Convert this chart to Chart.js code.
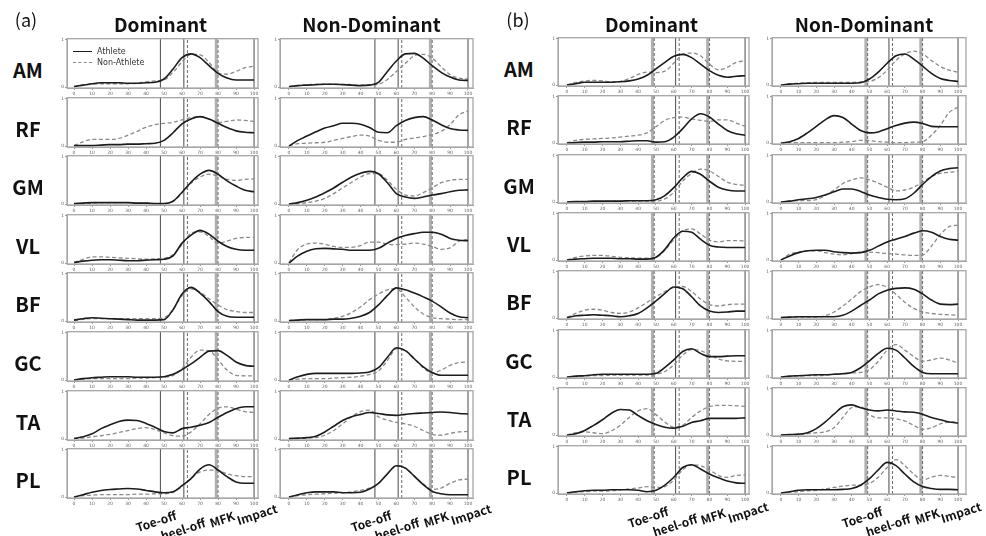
<!DOCTYPE html>
<html>
<head>
<meta charset="utf-8">
<script src="https://cdn.jsdelivr.net/npm/chart.js@4.4.0/dist/chart.umd.min.js"></script>
<style>
body{margin:0;background:#fff;width:986px;height:536px;position:relative;overflow:hidden;font-family:"Noto Sans CJK KR","Noto Sans",sans-serif;color:#111}
canvas{position:absolute}
.t{position:absolute;white-space:nowrap;transform:translate(-50%,-50%);line-height:1}
.legend{position:absolute;font-family:"DejaVu Sans",sans-serif;font-size:8px;color:#333;line-height:11px}
.legend span{display:inline-block;width:19px;margin-right:5px;vertical-align:middle}
</style>
</head>
<body>
<script>
// % of the movement cycle
const pct = [0,5,10,15,20,25,30,35,40,45,50,55,60,65,70,75,80,85,90,95,100]
const xTicks = [0,10,20,30,40,50,60,70,80,90,100]
const yTicks = [0,1]
const muscles = ['AM','RF','GM','VL','BF','GC','TA','PL']
const phaseNames = ['Toe-off','heel-off','MFK','Impact']
const phaseAt = [48,61,80,100]

// event lines (a) and (b)
const eventsA_solid = [48,61,100]
const eventsA_dash = [63,80]
const eventsA_band = [79]
const eventsB_solid = [61,100]
const eventsB_dash = [49,63,80]
const eventsB_band = [48,79]

// (a) Dominant
const aDomAM_ath = [0.01,0.04,0.07,0.09,0.09,0.09,0.08,0.08,0.09,0.10,0.17,0.38,0.62,0.70,0.62,0.45,0.29,0.19,0.15,0.15,0.15]
const aDomAM_non = [0.01,0.04,0.06,0.07,0.07,0.07,0.07,0.08,0.11,0.13,0.15,0.31,0.53,0.69,0.68,0.52,0.30,0.27,0.33,0.41,0.44]
const aDomRF_ath = [0.01,0.01,0.01,0.02,0.03,0.03,0.04,0.04,0.05,0.06,0.12,0.28,0.47,0.57,0.62,0.57,0.48,0.39,0.32,0.29,0.28]
const aDomRF_non = [0.01,0.09,0.14,0.14,0.14,0.16,0.23,0.31,0.40,0.45,0.48,0.50,0.55,0.60,0.62,0.57,0.50,0.52,0.55,0.54,0.52]
const aDomGM_ath = [0.01,0.02,0.03,0.03,0.03,0.03,0.03,0.02,0.02,0.01,0.01,0.06,0.25,0.46,0.63,0.71,0.63,0.49,0.38,0.29,0.26]
const aDomGM_non = [0.01,0.01,0.02,0.03,0.03,0.03,0.03,0.02,0.02,0.01,0.01,0.06,0.23,0.44,0.57,0.63,0.59,0.52,0.50,0.52,0.53]
const aDomVL_ath = [0.01,0.04,0.06,0.07,0.07,0.06,0.05,0.05,0.06,0.07,0.08,0.15,0.42,0.59,0.69,0.61,0.46,0.35,0.29,0.27,0.27]
const aDomVL_non = [0.01,0.08,0.13,0.13,0.12,0.11,0.10,0.09,0.08,0.09,0.10,0.18,0.39,0.63,0.66,0.56,0.42,0.46,0.52,0.54,0.54]
const aDomBF_ath = [0.02,0.05,0.07,0.06,0.05,0.04,0.03,0.02,0.02,0.02,0.03,0.24,0.57,0.71,0.59,0.41,0.20,0.10,0.08,0.08,0.08]
const aDomBF_non = [0.01,0.04,0.05,0.05,0.05,0.05,0.05,0.05,0.05,0.05,0.07,0.24,0.54,0.68,0.61,0.47,0.34,0.24,0.20,0.18,0.18]
const aDomGC_ath = [0.00,0.03,0.05,0.06,0.07,0.07,0.07,0.06,0.06,0.06,0.07,0.12,0.22,0.34,0.48,0.61,0.62,0.52,0.38,0.31,0.29]
const aDomGC_non = [0.00,0.02,0.03,0.03,0.03,0.03,0.03,0.04,0.04,0.05,0.06,0.10,0.24,0.48,0.63,0.62,0.43,0.21,0.10,0.09,0.09]
const aDomTA_ath = [0.01,0.05,0.11,0.22,0.30,0.37,0.40,0.39,0.33,0.25,0.16,0.13,0.22,0.25,0.29,0.35,0.46,0.56,0.64,0.68,0.68]
const aDomTA_non = [0.01,0.02,0.05,0.07,0.10,0.14,0.18,0.22,0.24,0.20,0.13,0.07,0.06,0.15,0.32,0.52,0.65,0.68,0.63,0.58,0.56]
const aDomPL_ath = [0.00,0.05,0.10,0.14,0.16,0.17,0.18,0.17,0.14,0.11,0.09,0.11,0.24,0.39,0.59,0.68,0.57,0.43,0.32,0.29,0.29]
const aDomPL_non = [0.00,0.03,0.04,0.05,0.05,0.05,0.05,0.06,0.06,0.07,0.07,0.10,0.22,0.39,0.53,0.57,0.56,0.49,0.45,0.43,0.43]

// (a) Non-Dominant
const aNonAM_ath = [0.01,0.03,0.04,0.05,0.06,0.06,0.05,0.04,0.03,0.04,0.10,0.33,0.55,0.70,0.71,0.61,0.45,0.31,0.21,0.15,0.14]
const aNonAM_non = [0.01,0.03,0.05,0.06,0.06,0.06,0.06,0.05,0.04,0.05,0.06,0.16,0.33,0.50,0.66,0.69,0.61,0.43,0.26,0.19,0.17]
const aNonRF_ath = [0.00,0.12,0.21,0.30,0.38,0.43,0.48,0.48,0.46,0.39,0.29,0.28,0.43,0.54,0.60,0.62,0.55,0.45,0.37,0.34,0.33]
const aNonRF_non = [0.01,0.05,0.06,0.07,0.08,0.12,0.16,0.20,0.23,0.21,0.12,0.08,0.08,0.14,0.17,0.20,0.24,0.31,0.45,0.66,0.74]
const aNonGM_ath = [0.00,0.03,0.08,0.15,0.24,0.34,0.46,0.57,0.65,0.69,0.64,0.45,0.22,0.15,0.12,0.15,0.19,0.22,0.26,0.29,0.30]
const aNonGM_non = [0.00,0.01,0.03,0.06,0.12,0.22,0.34,0.46,0.57,0.64,0.64,0.50,0.31,0.19,0.17,0.24,0.34,0.45,0.50,0.52,0.52]
const aNonVL_ath = [0.00,0.15,0.25,0.30,0.31,0.30,0.29,0.27,0.27,0.27,0.31,0.42,0.52,0.58,0.62,0.65,0.65,0.61,0.52,0.48,0.47]
const aNonVL_non = [0.01,0.29,0.40,0.42,0.40,0.35,0.33,0.33,0.37,0.44,0.44,0.40,0.39,0.40,0.42,0.40,0.35,0.29,0.32,0.46,0.50]
const aNonBF_ath = [0.01,0.02,0.03,0.03,0.03,0.04,0.04,0.06,0.10,0.18,0.34,0.54,0.70,0.66,0.59,0.51,0.42,0.30,0.17,0.09,0.07]
const aNonBF_non = [0.01,0.02,0.03,0.03,0.03,0.06,0.10,0.18,0.30,0.45,0.57,0.66,0.68,0.51,0.30,0.15,0.07,0.05,0.04,0.03,0.03]
const aNonGC_ath = [0.00,0.07,0.12,0.14,0.14,0.14,0.14,0.14,0.15,0.17,0.26,0.48,0.68,0.62,0.45,0.28,0.16,0.10,0.10,0.10,0.10]
const aNonGC_non = [0.00,0.02,0.03,0.03,0.03,0.04,0.05,0.06,0.08,0.12,0.19,0.41,0.66,0.63,0.45,0.26,0.15,0.21,0.31,0.37,0.38]
const aNonTA_ath = [0.01,0.02,0.03,0.06,0.15,0.27,0.39,0.47,0.52,0.56,0.54,0.51,0.50,0.52,0.54,0.55,0.56,0.57,0.56,0.54,0.53]
const aNonTA_non = [0.01,0.01,0.02,0.03,0.08,0.18,0.32,0.47,0.58,0.61,0.47,0.40,0.35,0.32,0.27,0.18,0.10,0.08,0.12,0.15,0.16]
const aNonPL_ath = [0.00,0.05,0.09,0.11,0.11,0.11,0.09,0.09,0.10,0.17,0.29,0.49,0.66,0.61,0.44,0.26,0.12,0.07,0.05,0.05,0.05]
const aNonPL_non = [0.00,0.03,0.05,0.06,0.07,0.08,0.09,0.11,0.14,0.19,0.29,0.49,0.66,0.61,0.44,0.28,0.16,0.19,0.29,0.36,0.38]

// (b) Dominant
const bDomAM_ath = [0.00,0.03,0.06,0.06,0.06,0.06,0.07,0.09,0.13,0.21,0.35,0.49,0.62,0.66,0.59,0.45,0.31,0.21,0.17,0.19,0.20]
const bDomAM_non = [0.00,0.06,0.09,0.10,0.09,0.07,0.08,0.14,0.23,0.28,0.27,0.30,0.47,0.66,0.69,0.63,0.45,0.33,0.38,0.49,0.52]
const bDomRF_ath = [0.00,0.01,0.02,0.02,0.03,0.03,0.03,0.04,0.05,0.05,0.02,0.03,0.13,0.31,0.52,0.63,0.56,0.41,0.27,0.20,0.17]
const bDomRF_non = [0.00,0.06,0.08,0.09,0.10,0.11,0.13,0.15,0.17,0.22,0.35,0.49,0.55,0.56,0.52,0.49,0.47,0.50,0.50,0.43,0.36]
const bDomGM_ath = [0.00,0.01,0.01,0.02,0.02,0.02,0.02,0.03,0.03,0.03,0.05,0.14,0.31,0.52,0.66,0.60,0.45,0.32,0.26,0.24,0.24]
const bDomGM_non = [0.00,0.01,0.01,0.01,0.01,0.02,0.02,0.02,0.02,0.02,0.02,0.07,0.21,0.45,0.62,0.71,0.67,0.55,0.43,0.38,0.36]
const bDomVL_ath = [0.00,0.02,0.03,0.04,0.04,0.04,0.03,0.03,0.02,0.02,0.06,0.23,0.48,0.62,0.60,0.45,0.32,0.28,0.27,0.27,0.27]
const bDomVL_non = [0.00,0.06,0.09,0.10,0.10,0.08,0.06,0.05,0.04,0.04,0.06,0.21,0.44,0.63,0.67,0.56,0.43,0.39,0.42,0.42,0.41]
const bDomBF_ath = [0.01,0.05,0.06,0.07,0.06,0.05,0.03,0.05,0.10,0.22,0.37,0.53,0.67,0.63,0.46,0.26,0.15,0.12,0.13,0.15,0.15]
const bDomBF_non = [0.01,0.10,0.17,0.19,0.17,0.12,0.10,0.13,0.22,0.34,0.46,0.57,0.66,0.68,0.57,0.41,0.29,0.26,0.29,0.30,0.30]
const bDomGC_ath = [0.00,0.02,0.03,0.05,0.06,0.06,0.06,0.06,0.06,0.06,0.08,0.21,0.37,0.55,0.61,0.51,0.44,0.44,0.45,0.46,0.46]
const bDomGC_non = [0.00,0.01,0.02,0.03,0.03,0.04,0.04,0.04,0.04,0.04,0.06,0.12,0.26,0.47,0.59,0.57,0.48,0.39,0.35,0.34,0.34]
const bDomTA_ath = [0.00,0.03,0.10,0.21,0.33,0.47,0.55,0.54,0.42,0.31,0.23,0.17,0.15,0.19,0.27,0.31,0.36,0.36,0.36,0.36,0.37]
const bDomTA_non = [0.00,0.05,0.07,0.05,0.03,0.09,0.21,0.38,0.52,0.57,0.44,0.28,0.17,0.21,0.38,0.52,0.61,0.64,0.64,0.63,0.62]
const bDomPL_ath = [0.00,0.03,0.05,0.06,0.06,0.07,0.07,0.07,0.06,0.03,0.06,0.17,0.34,0.55,0.61,0.52,0.41,0.33,0.26,0.22,0.21]
const bDomPL_non = [0.00,0.02,0.03,0.04,0.04,0.05,0.07,0.09,0.11,0.14,0.12,0.14,0.28,0.50,0.61,0.59,0.50,0.38,0.34,0.38,0.39]

// (b) Non-Dominant
const bNonAM_ath = [0.00,0.02,0.03,0.04,0.04,0.04,0.04,0.04,0.04,0.05,0.13,0.28,0.47,0.63,0.67,0.56,0.41,0.25,0.14,0.10,0.08]
const bNonAM_non = [0.00,0.03,0.04,0.05,0.06,0.06,0.06,0.06,0.06,0.07,0.08,0.16,0.32,0.53,0.67,0.73,0.67,0.53,0.40,0.32,0.28]
const bNonRF_ath = [0.00,0.03,0.10,0.22,0.36,0.50,0.59,0.55,0.41,0.27,0.22,0.24,0.31,0.38,0.43,0.45,0.42,0.36,0.35,0.35,0.35]
const bNonRF_non = [0.00,0.01,0.01,0.01,0.01,0.01,0.01,0.02,0.03,0.06,0.05,0.03,0.02,0.01,0.01,0.02,0.03,0.17,0.38,0.66,0.77]
const bNonGM_ath = [0.00,0.02,0.05,0.07,0.10,0.15,0.22,0.28,0.28,0.23,0.15,0.10,0.06,0.05,0.07,0.19,0.38,0.55,0.67,0.72,0.74]
const bNonGM_non = [0.00,0.02,0.03,0.03,0.05,0.14,0.26,0.40,0.48,0.52,0.48,0.41,0.32,0.24,0.26,0.32,0.43,0.55,0.62,0.64,0.66]
const bNonVL_ath = [0.00,0.09,0.16,0.20,0.21,0.21,0.18,0.16,0.15,0.16,0.21,0.30,0.39,0.45,0.51,0.58,0.63,0.60,0.51,0.45,0.43]
const bNonVL_non = [0.00,0.13,0.17,0.20,0.20,0.16,0.13,0.11,0.14,0.17,0.17,0.16,0.14,0.13,0.11,0.10,0.11,0.30,0.55,0.72,0.75]
const bNonBF_ath = [0.01,0.02,0.03,0.03,0.03,0.03,0.03,0.06,0.15,0.27,0.39,0.52,0.60,0.64,0.65,0.62,0.52,0.39,0.30,0.29,0.30]
const bNonBF_non = [0.01,0.02,0.02,0.02,0.02,0.05,0.13,0.26,0.41,0.57,0.67,0.72,0.66,0.51,0.34,0.21,0.13,0.10,0.08,0.07,0.06]
const bNonGC_ath = [0.00,0.02,0.03,0.04,0.05,0.05,0.06,0.07,0.10,0.20,0.35,0.51,0.62,0.58,0.41,0.23,0.10,0.07,0.07,0.07,0.07]
const bNonGC_non = [0.00,0.01,0.02,0.03,0.03,0.04,0.06,0.08,0.09,0.10,0.16,0.34,0.58,0.70,0.58,0.44,0.34,0.37,0.41,0.37,0.30]
const bNonTA_ath = [0.00,0.01,0.02,0.05,0.14,0.28,0.45,0.61,0.65,0.59,0.54,0.52,0.54,0.52,0.50,0.49,0.45,0.38,0.33,0.28,0.26]
const bNonTA_non = [0.00,0.01,0.01,0.03,0.05,0.07,0.16,0.38,0.59,0.61,0.44,0.37,0.37,0.35,0.30,0.21,0.12,0.16,0.24,0.28,0.28]
const bNonPL_ath = [0.00,0.03,0.06,0.07,0.07,0.07,0.07,0.08,0.10,0.17,0.31,0.50,0.66,0.59,0.41,0.24,0.14,0.10,0.08,0.08,0.07]
const bNonPL_non = [0.00,0.02,0.03,0.05,0.06,0.09,0.12,0.15,0.17,0.17,0.21,0.34,0.55,0.72,0.59,0.41,0.28,0.34,0.38,0.36,0.33]

const Y_MIN = -0.02, Y_MAX = 1.02

const columns = [
  { title: 'Dominant', left: 67, w: 191, top0: 38, step: 58.6, h: 50, xmin: -3.9, xmax: 102.2, ev: 'a',
    rows: [[aDomAM_ath,aDomAM_non],[aDomRF_ath,aDomRF_non],[aDomGM_ath,aDomGM_non],[aDomVL_ath,aDomVL_non],
           [aDomBF_ath,aDomBF_non],[aDomGC_ath,aDomGC_non],[aDomTA_ath,aDomTA_non],[aDomPL_ath,aDomPL_non]] },
  { title: 'Non-Dominant', left: 280, w: 193, top0: 38, step: 58.6, h: 50, xmin: -5, xmax: 102.8, ev: 'a',
    rows: [[aNonAM_ath,aNonAM_non],[aNonRF_ath,aNonRF_non],[aNonGM_ath,aNonGM_non],[aNonVL_ath,aNonVL_non],
           [aNonBF_ath,aNonBF_non],[aNonGC_ath,aNonGC_non],[aNonTA_ath,aNonTA_non],[aNonPL_ath,aNonPL_non]] },
  { title: 'Dominant', left: 558, w: 191, top0: 37, step: 58.3, h: 49, xmin: -5, xmax: 102.2, ev: 'b',
    rows: [[bDomAM_ath,bDomAM_non],[bDomRF_ath,bDomRF_non],[bDomGM_ath,bDomGM_non],[bDomVL_ath,bDomVL_non],
           [bDomBF_ath,bDomBF_non],[bDomGC_ath,bDomGC_non],[bDomTA_ath,bDomTA_non],[bDomPL_ath,bDomPL_non]] },
  { title: 'Non-Dominant', left: 772, w: 194, top0: 37, step: 58.3, h: 49, xmin: -5, xmax: 104.5, ev: 'b',
    rows: [[bNonAM_ath,bNonAM_non],[bNonRF_ath,bNonRF_non],[bNonGM_ath,bNonGM_non],[bNonVL_ath,bNonVL_non],
           [bNonBF_ath,bNonBF_non],[bNonGC_ath,bNonGC_non],[bNonTA_ath,bNonTA_non],[bNonPL_ath,bNonPL_non]] }
]

const boxPlugin = {
  id: 'box',
  afterDraw(chart) {
    const { ctx, chartArea: a } = chart
    ctx.save()
    ctx.strokeStyle = '#a6a6a6'
    ctx.lineWidth = 1.3
    ctx.strokeRect(a.left, a.top, a.right - a.left, a.bottom - a.top)
    ctx.restore()
  }
}

const vline = (x, style) => {
  const d = { data: [{ x: x, y: Y_MIN }, { x: x, y: Y_MAX }], pointRadius: 0, borderWidth: 1.1, borderColor: '#5a5a5a' }
  if (style === 'dash') { d.borderDash = [3, 2]; d.borderColor = '#6a6a6a'; d.borderWidth = 1 }
  if (style === 'band') { d.borderWidth = 3; d.borderColor = '#b0b0b0' }
  return d
}

const eventLines = (ev) => {
  const solid = ev === 'a' ? eventsA_solid : eventsB_solid
  const dash = ev === 'a' ? eventsA_dash : eventsB_dash
  const band = ev === 'a' ? eventsA_band : eventsB_band
  return [...dash.map(x => vline(x, 'dash')), ...solid.map(x => vline(x, 'solid')), ...band.map(x => vline(x, 'band'))]
}

const makeChart = (col, r) => {
  const top = col.top0 + col.step * r
  const c = document.createElement('canvas')
  c.width = col.w + 12
  c.height = col.h + 12
  c.style.left = (col.left - 9) + 'px'
  c.style.top = (top - 3) + 'px'
  document.body.appendChild(c)
  const [ath, non] = col.rows[r]
  const datasets = [
    { label: 'Athlete', data: ath.map((v, i) => ({ x: pct[i], y: v })), borderColor: '#1c1c1c', borderWidth: 1.6,
      pointRadius: 0, cubicInterpolationMode: 'monotone' },
    { label: 'Non-Athlete', data: non.map((v, i) => ({ x: pct[i], y: v })), borderColor: '#8a8a8a', borderWidth: 1.3,
      borderDash: [4, 2.5], pointRadius: 0, cubicInterpolationMode: 'monotone' },
    ...eventLines(col.ev)
  ]
  const tickFont = { size: 4.5, family: 'DejaVu Sans' }
  return new Chart(c, {
    type: 'line',
    data: { datasets },
    options: {
      responsive: false,
      animation: false,
      events: [],
      layout: { padding: { top: 3, right: 3, left: 0, bottom: 0 }, autoPadding: false },
      plugins: { legend: { display: false }, tooltip: { enabled: false } },
      scales: {
        x: {
          type: 'linear', min: col.xmin, max: col.xmax,
          afterBuildTicks: s => { s.ticks = xTicks.map(v => ({ value: v })) },
          afterFit: s => { s.height = 9 },
          ticks: { font: tickFont, color: '#666', padding: 1, maxRotation: 0, autoSkip: false },
          grid: { drawOnChartArea: false, tickLength: 2, color: '#999' },
          border: { color: '#a6a6a6' }
        },
        y: {
          min: Y_MIN, max: Y_MAX,
          afterBuildTicks: s => { s.ticks = yTicks.map(v => ({ value: v })) },
          afterFit: s => { s.width = 9 },
          ticks: { font: tickFont, color: '#666', padding: 1 },
          grid: { drawOnChartArea: false, tickLength: 2, color: '#999' },
          border: { color: '#a6a6a6' }
        }
      }
    },
    plugins: [boxPlugin]
  })
}

const addText = (txt, x, y, css) => {
  const d = document.createElement('div')
  d.className = 't'
  d.textContent = txt
  d.style.left = x + 'px'
  d.style.top = y + 'px'
  Object.assign(d.style, css || {})
  document.body.appendChild(d)
  return d
}

const phaseY = { a: [521, 529, 519, 514], b: [517, 525, 516, 512] }
const phaseDx = [-4, -1, 4, 3]

columns.forEach((col, ci) => {
  let last
  col.rows.forEach((_, r) => { last = makeChart(col, r) })
  // column title
  addText(col.title, col.left + col.w / 2 - (ci % 2 ? 3 : 0) - 2, 23, { fontWeight: 700, fontSize: '19px' })
  // phase labels under the last row
  const xs = last.scales.x
  const cLeft = col.left - 9
  phaseNames.forEach((p, i) => {
    const x = cLeft + xs.getPixelForValue(phaseAt[i]) + phaseDx[i]
    addText(p, x, phaseY[col.ev][i], { fontWeight: 700, fontSize: '12px', color: '#111',
      transform: 'translate(-50%,-50%) rotate(-18deg)' })
  })
})

// row labels and panel tags
muscles.forEach((m, r) => {
  addText(m, 28, 38 + 58.6 * r + 32, { fontWeight: 700, fontSize: '20px' })
  addText(m, 519, 37 + 58.3 * r + 32, { fontWeight: 700, fontSize: '20px' })
})
addText('(a)', 26, 19, { fontSize: '18px' })
addText('(b)', 518, 19, { fontSize: '18px' })

// legend inside (a) Dominant AM
const lg = document.createElement('div')
lg.className = 'legend'
lg.style.left = '73px'
lg.style.top = '46px'
lg.innerHTML = '<div><span style="border-top:1.6px solid #1c1c1c"></span>Athlete</div>' +
  '<div><span style="border-top:1.3px dashed #8a8a8a"></span>Non-Athlete</div>'
document.body.appendChild(lg)
</script>
</body>
</html>
